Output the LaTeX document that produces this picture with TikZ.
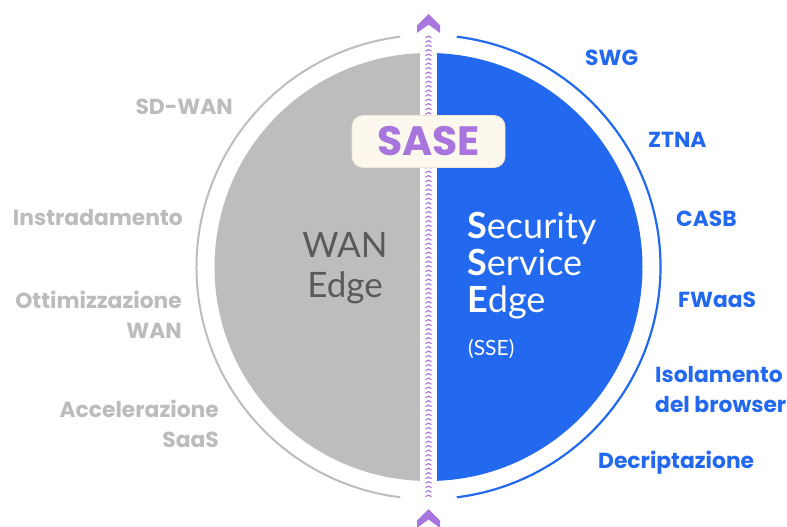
\documentclass[tikz,border=0pt]{standalone}
\usepackage{fontspec}
\setmainfont{Poppins}
\newfontfamily\latofont{Lato}
\definecolor{sseblue}{HTML}{2369EF}
\definecolor{wangray}{HTML}{BDBDBD}
\definecolor{labelgray}{HTML}{BCBCBC}
\definecolor{edgetext}{HTML}{5A5A5A}
\definecolor{sasepurple}{HTML}{A874DE}
\definecolor{boxcream}{HTML}{FCF8EE}
\definecolor{boxline}{HTML}{EEE7D8}
\tikzset{
  leftlabel/.style={anchor=base east, font=\fontsize{21.8}{30}\selectfont\bfseries, text=labelgray, align=right, inner sep=0pt},
  rightlabel/.style={anchor=base west, font=\fontsize{21.8}{30}\selectfont\bfseries, text=sseblue, align=left, inner sep=0pt},
  chev/.style={draw=sasepurple, line width=1.1pt, line cap=round, line join=round},
  bigchev/.style={fill=sasepurple},
}
\begin{document}
\begin{tikzpicture}[x=1pt,y=-1pt]
\useasboundingbox (0,0) rectangle (787,527);
\fill[white] (0,0) rectangle (787,527);
\coordinate (c) at (428.5,267);

% two half discs
\begin{scope}
  \clip (c) circle (214);
  \fill[wangray] (0,0) rectangle (420,527);
  \fill[sseblue] (437,0) rectangle (787,527);
\end{scope}

% outer arcs
\draw[wangray, line width=2pt] (c) ++(97:232) arc (97:263:232);
\draw[sseblue, line width=2.2pt] (c) ++(-83:232) arc (-83:83:232);

% dotted chevron axis
\foreach \yy in {36,40.5,...,496} {
  \draw[chev] (425.8,\yy+1.6) -- (428.5,\yy) -- (431.2,\yy+1.6);
}
% big chevron heads
\fill[bigchev] (428.5,14) -- (440,25.5) -- (440,33) -- (428.5,24.5) -- (417,33) -- (417,25.5) -- cycle;
\fill[bigchev] (428.5,509) -- (440,520.5) -- (440,528) -- (428.5,519.5) -- (417,528) -- (417,520.5) -- cycle;

% SASE badge
\node[fill=boxcream, draw=boxline, line width=0.8pt, rounded corners=11pt,
      minimum width=153pt, minimum height=52pt, inner sep=0pt] (sase) at (428.5,141.5) {};
\node[font=\fontsize{41}{41}\selectfont\bfseries, text=sasepurple, inner sep=0pt] (sasetext) at (sase.center) {SASE};

% half disc titles (base anchor = last line)
\node[anchor=base, font=\latofont\fontsize{35}{40}\selectfont, text=edgetext, align=center, inner sep=0pt] (wan) at (345,297) {WAN\\Edge};
\node[anchor=base west, font=\latofont\fontsize{36}{37}\selectfont, text=white, align=left, inner sep=0pt] (sse) at (467,312)
  {\textbf{S}ecurity\\\textbf{S}ervice\\\textbf{E}dge};
\node[anchor=base west, font=\latofont\fontsize{21}{22}\selectfont, text=white, inner sep=0pt] (sseabbr) at (468,355) {(SSE)};

% WAN edge capabilities
\node[leftlabel] (sdwan) at (233,114) {SD-WAN};
\node[leftlabel] (instr) at (183,225) {Instradamento};
\node[leftlabel] (ottim) at (182,338) {Ottimizzazione\\WAN};
\node[leftlabel] (accel) at (219,447) {Accelerazione\\SaaS};

% SSE capabilities
\node[rightlabel] (swg) at (585,66) {SWG};
\node[rightlabel] (ztna) at (648,147) {ZTNA};
\node[rightlabel] (casb) at (676,226) {CASB};
\node[rightlabel] (fwaas) at (678,307) {FWaaS};
\node[rightlabel] (isol) at (655,412) {Isolamento\\del browser};
\node[rightlabel] (decr) at (598,468) {Decriptazione};
\end{tikzpicture}
\end{document}
